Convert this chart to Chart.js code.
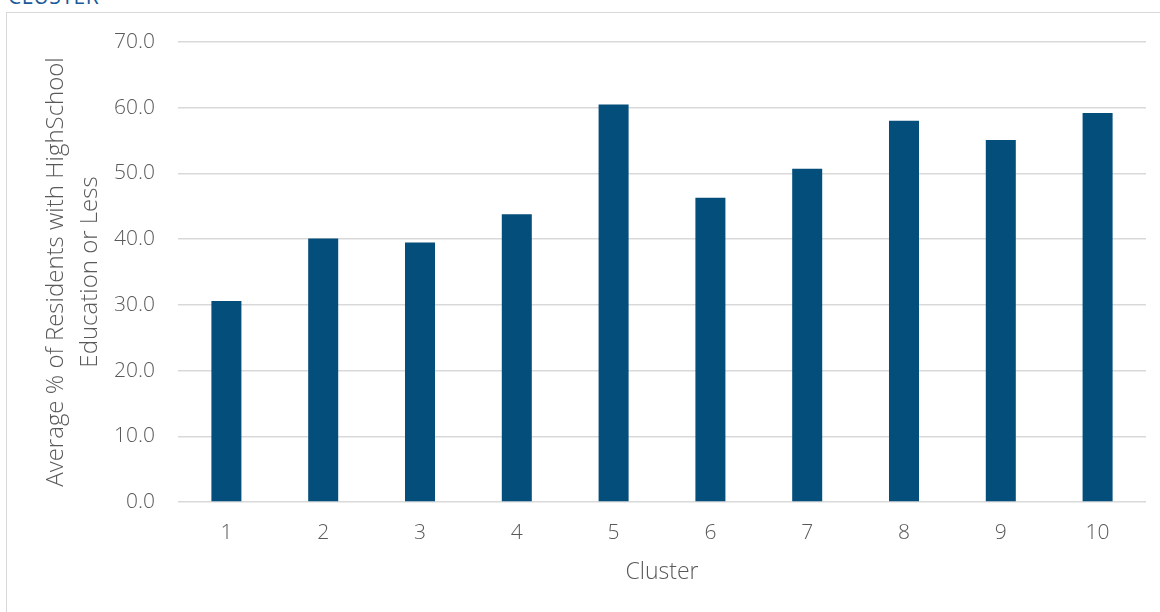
<!DOCTYPE html>
<html>
<head>
<meta charset="utf-8">
<script src="https://cdn.jsdelivr.net/npm/chart.js@4/dist/chart.umd.min.js"></script>
<style>
  html, body { margin: 0; padding: 0; background: #ffffff; overflow: hidden; }
  #wrap { position: relative; width: 1160px; height: 612px; overflow: hidden; }
  #heading {
    position: absolute; left: 8px; top: -14px;
    font-family: "Open Sans", sans-serif; font-size: 21px; line-height: 21px;
    color: #1a5a9a; letter-spacing: 0.6px; white-space: nowrap;
  }
  #frame {
    position: absolute; left: 6px; top: 12px; width: 1200px; height: 700px;
    border: 1.5px solid #d9d9d9; box-sizing: border-box;
  }
  #chart { position: absolute; left: 0; top: 0; }
</style>
</head>
<body>
<div id="wrap">
  <div id="heading">CLUSTER</div>
  <div id="frame"></div>
  <canvas id="chart" width="1160" height="612"></canvas>
</div>
<script>
// Cluster ids along the x axis
const clusters = ['1', '2', '3', '4', '5', '6', '7', '8', '9', '10'];
// Average share of residents with high-school education or less, per cluster
const hsOrLess = [30.6, 40.1, 39.5, 43.8, 60.5, 46.3, 50.7, 58.0, 55.1, 59.2];
// Value-axis range and step
const yMin = 0;
const yMax = 70;
const yStep = 10;

const FONT = '"Open Sans", "Segoe UI", sans-serif';
const TEXT = '#595959';
const GRID = '#d9d9d9';

new Chart(document.getElementById('chart'), {
  type: 'bar',
  data: {
    labels: clusters,
    datasets: [{
      data: hsOrLess,
      backgroundColor: '#044e7b',
      borderWidth: 0,
      categoryPercentage: 1.0,
      barPercentage: 0.31
    }]
  },
  options: {
    responsive: false,
    animation: false,
    layout: { padding: { top: 42, right: 14, left: 0, bottom: 0 } },
    plugins: { legend: { display: false }, tooltip: { enabled: false } },
    scales: {
      x: {
        grid: { display: false, drawTicks: false },
        border: { display: false },
        ticks: { color: TEXT, padding: 18, font: { family: FONT, size: 21, weight: 300 } },
        title: {
          display: true, text: 'Cluster', color: TEXT,
          font: { family: FONT, size: 23, weight: 300 },
          padding: { top: 0, bottom: 26 }
        },
        afterFit: (s) => { s.height = 110; }
      },
      y: {
        min: yMin, max: yMax,
        grid: { color: GRID, lineWidth: 1.5, drawTicks: false },
        border: { display: false },
        ticks: {
          stepSize: yStep, color: TEXT, padding: 23,
          font: { family: FONT, size: 21, weight: 300 },
          callback: (v) => Number(v).toFixed(1)
        },
        title: {
          display: true,
          text: ['Average % of Residents with HighSchool', 'Education or Less'],
          color: TEXT,
          font: { family: FONT, size: 24, weight: 300, lineHeight: 1.38 },
          padding: { top: 40, bottom: 0 }
        },
        afterFit: (s) => { s.width = 178; }
      }
    }
  }
});
</script>
</body>
</html>
